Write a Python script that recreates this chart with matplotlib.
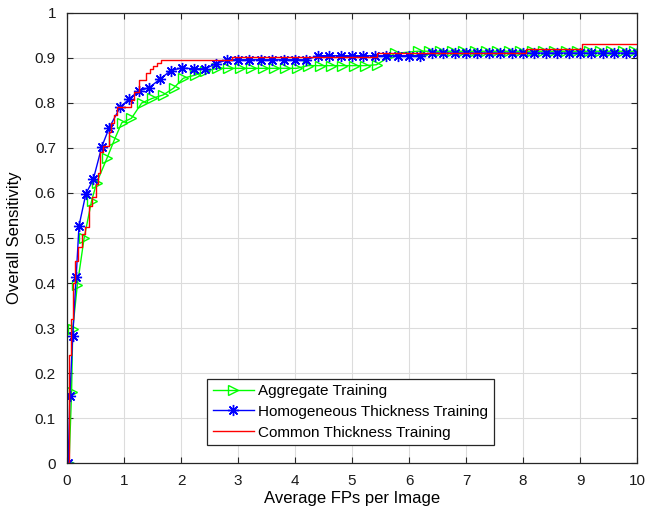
import matplotlib
matplotlib.use("Agg")
import matplotlib.pyplot as plt

plt.rcParams["font.family"] = ["Liberation Sans", "DejaVu Sans"]

# Aggregate training (green, triangles)
agg_x = [0.035, 0.08, 0.10, 0.18, 0.30, 0.43, 0.52, 0.70, 0.83, 0.96, 1.13, 1.31,
         1.49, 1.69, 1.87, 2.04, 2.25, 2.42, 2.63, 2.83, 3.03, 3.23, 3.43, 3.63,
         3.83, 4.03, 4.23, 4.43, 4.63, 4.83, 5.03, 5.23, 5.43, 5.75, 6.15, 6.35,
         6.55, 6.75, 6.95, 7.15, 7.35, 7.55, 7.75, 7.95, 8.15, 8.35, 8.55, 8.75,
         8.95, 9.15, 9.35, 9.55, 9.75, 9.95]
agg_y = [0.0, 0.158, 0.297, 0.395, 0.50, 0.582, 0.623, 0.677, 0.718, 0.756, 0.766, 0.80,
         0.81, 0.818, 0.833, 0.855, 0.862, 0.87, 0.877, 0.877, 0.877, 0.877, 0.877, 0.877,
         0.877, 0.877, 0.883, 0.883, 0.883, 0.883, 0.883, 0.883, 0.885, 0.91, 0.915, 0.915,
         0.915, 0.915, 0.915, 0.915, 0.915, 0.915, 0.915, 0.915, 0.915, 0.915, 0.915, 0.915,
         0.915, 0.915, 0.915, 0.915, 0.915, 0.915]

# Homogeneous thickness training (blue, asterisks)
hom_x = [0.02, 0.05, 0.10, 0.16, 0.21, 0.33, 0.46, 0.61, 0.74, 0.93, 1.08, 1.26,
         1.44, 1.63, 1.82, 2.01, 2.22, 2.42, 2.61, 2.80, 3.00, 3.20, 3.40, 3.60,
         3.80, 4.00, 4.20, 4.40, 4.60, 4.80, 5.00, 5.20, 5.40, 5.60, 5.80, 6.00,
         6.20, 6.40, 6.60, 6.80, 7.00, 7.20, 7.40, 7.60, 7.80, 8.00, 8.20, 8.40,
         8.60, 8.80, 9.00, 9.20, 9.40, 9.60, 9.80, 10.0]
hom_y = [0.0, 0.149, 0.282, 0.413, 0.527, 0.598, 0.630, 0.703, 0.745, 0.790, 0.808, 0.827,
         0.834, 0.853, 0.872, 0.878, 0.876, 0.876, 0.887, 0.896, 0.896, 0.896, 0.896, 0.896,
         0.896, 0.896, 0.896, 0.905, 0.905, 0.905, 0.905, 0.905, 0.905, 0.905, 0.905, 0.905,
         0.905, 0.911, 0.911, 0.911, 0.911, 0.911, 0.911, 0.911, 0.911, 0.911, 0.911, 0.911,
         0.911, 0.911, 0.911, 0.911, 0.911, 0.911, 0.911, 0.911]

# Common thickness training (red, staircase)
com_x = [0.02, 0.04, 0.07, 0.10, 0.14, 0.20, 0.27, 0.32, 0.38, 0.44, 0.50, 0.55,
         0.58, 0.63, 0.73, 0.78, 0.82, 0.87, 1.12, 1.18, 1.27, 1.39, 1.46, 1.51,
         1.57, 1.64, 2.90, 5.43, 8.05, 9.03, 10.0]
com_y = [0.0, 0.24, 0.32, 0.40, 0.45, 0.48, 0.51, 0.525, 0.57, 0.59, 0.62, 0.645,
         0.69, 0.705, 0.735, 0.755, 0.773, 0.792, 0.807, 0.825, 0.851, 0.867, 0.875, 0.882,
         0.888, 0.896, 0.902, 0.911, 0.921, 0.93, 0.93]

fig = plt.figure(figsize=(6.47, 5.17), dpi=100)
ax = fig.add_axes([0.1036, 0.1044, 0.881, 0.8705])

ax.plot(agg_x, agg_y, color=(0, 1, 0), marker=">", markersize=7, markerfacecolor="none",
        lw=1, label="Aggregate Training")
ax.plot(hom_x, hom_y, color=(0, 0, 1), marker=(8, 2, 0), markersize=8, markeredgewidth=1,
        lw=1, label="Homogeneous Thickness Training")
ax.plot(com_x, com_y, color=(1, 0, 0), lw=1, drawstyle="steps-post",
        label="Common Thickness Training")

ax.set_xlim(0, 10)
ax.set_ylim(0, 1)
ax.set_xticks(range(0, 11))
ax.set_yticks([i / 10 for i in range(11)])
ax.set_yticklabels(["0", "0.1", "0.2", "0.3", "0.4", "0.5", "0.6", "0.7", "0.8", "0.9", "1"])
ax.grid(True, color="#dcdcdc", lw=0.8)
ax.set_axisbelow(True)
ax.tick_params(direction="in", top=True, right=True, labelsize=11, length=4,
               color="#262626", labelcolor="#1a1a1a")
ax.tick_params(axis="x", pad=8)
ax.tick_params(axis="y", pad=8)
for s in ax.spines.values():
    s.set_linewidth(0.9)
    s.set_color("#262626")

ax.set_xlabel("Average FPs per Image", fontsize=12, labelpad=2)
ax.set_ylabel("Overall Sensitivity", fontsize=12, labelpad=9)

leg = ax.legend(loc="lower left", bbox_to_anchor=(0.246, 0.04), fontsize=11,
                fancybox=False, framealpha=1, edgecolor="#262626", handlelength=2.7,
                borderpad=0.35, labelspacing=0.45, handletextpad=0.3, borderaxespad=0)
leg.get_frame().set_linewidth(0.9)

plt.savefig("out.png", dpi=100)
